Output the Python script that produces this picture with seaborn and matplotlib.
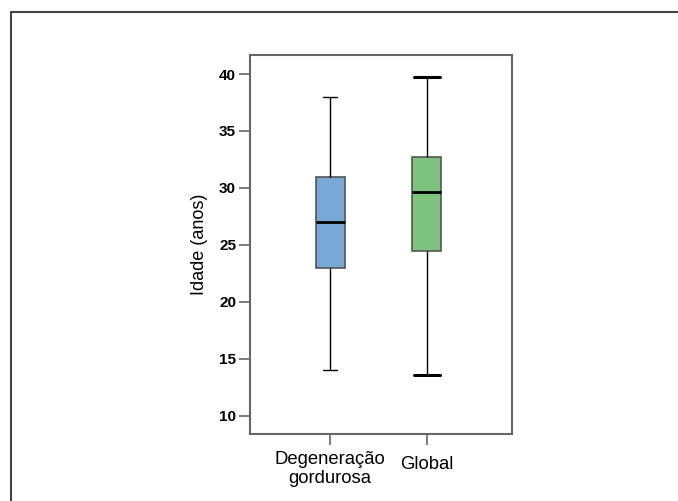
import matplotlib
matplotlib.use("Agg")
import matplotlib.pyplot as plt
import matplotlib.transforms as mtransforms
from matplotlib.lines import Line2D
import numpy as np
import seaborn as sns
import pandas as pd

# Five-number summaries (min, Q1, median, Q3, max)
categories = ["Degeneração\ngordurosa", "Global"]
degeneracao = [14.0, 23.0, 27.0, 31.0, 38.0]
global_vals = [13.6, 24.5, 29.6, 32.7, 39.7]
colors = ["#78A9D6", "#7DC27D"]
yticks = [10, 15, 20, 25, 30, 35, 40]

df = pd.DataFrame({
    "grupo": [categories[0]] * len(degeneracao) + [categories[1]] * len(global_vals),
    "idade": degeneracao + global_vals,
})

sns.set_theme(style="white")
plt.rcParams["font.family"] = ["Liberation Sans", "DejaVu Sans"]
plt.rcParams["text.color"] = "black"
plt.rcParams["axes.labelcolor"] = "black"
plt.rcParams["xtick.color"] = "black"
plt.rcParams["ytick.color"] = "black"

fig = plt.figure(figsize=(6.78, 5.01), dpi=100)
ax = fig.add_axes([250 / 678, 1 - 434 / 501, (512 - 250) / 678, (434 - 55) / 501])

sns.boxplot(
    data=df, x="grupo", y="idade", hue="grupo", palette=colors, legend=False,
    order=categories, width=0.3, whis=1.5, ax=ax, saturation=1,
    linewidth=1.0, linecolor="#333333",
    medianprops=dict(color="black", linewidth=2.0),
    whiskerprops=dict(color="black", linewidth=1.0),
    capprops=dict(color="black", linewidth=1.0),
    boxprops=dict(edgecolor="#555555", linewidth=1.2),
    showfliers=False,
)

# Global box: wider and thicker caps, as in the reference
for line in ax.lines:
    xd = np.asarray(line.get_xdata(), dtype=float)
    yd = np.asarray(line.get_ydata(), dtype=float)
    if len(yd) == 2 and yd[0] == yd[1] and abs(xd.mean() - 1) < 0.01 \
            and (np.isclose(yd[0], min(global_vals)) or np.isclose(yd[0], max(global_vals))):
        c = xd.mean()
        line.set_xdata(c + (xd - c) * 1.75)
        line.set_linewidth(2.2)

ax.set_xlim(-0.83, 1.88)
ax.set_ylim(8.4, 41.67)
ax.set_yticks(yticks)
ax.set_yticklabels([str(t) for t in yticks], fontsize=11, fontweight="bold")
ax.set_xlabel("")
ax.set_ylabel("Idade (anos)", fontsize=13, labelpad=8)
ax.set_xticks([0, 1])
ax.set_xticklabels(categories, fontsize=13.3, multialignment="center", linespacing=1.15)

for s in ax.spines.values():
    s.set_color("#666666")
    s.set_linewidth(1.5)
ax.tick_params(axis="both", which="both", direction="out", length=8, width=1.2,
               color="#666666", labelcolor="black", left=True, bottom=True, pad=2)
ax.tick_params(axis="x", pad=4)

# shift "Global" tick label down to match reference
lbls = ax.get_xticklabels()
offset = mtransforms.ScaledTranslation(0, -5 / 100, fig.dpi_scale_trans)
lbls[1].set_transform(lbls[1].get_transform() + offset)

# outer frame (top and left lines)
fig.add_artist(Line2D([11 / 678, 1.0], [1 - 12 / 501, 1 - 12 / 501],
                      transform=fig.transFigure, color="#444444", linewidth=1.5))
fig.add_artist(Line2D([11 / 678, 11 / 678], [0, 1 - 12 / 501],
                      transform=fig.transFigure, color="#444444", linewidth=1.5))

fig.savefig("out.png", dpi=100, facecolor="white")
